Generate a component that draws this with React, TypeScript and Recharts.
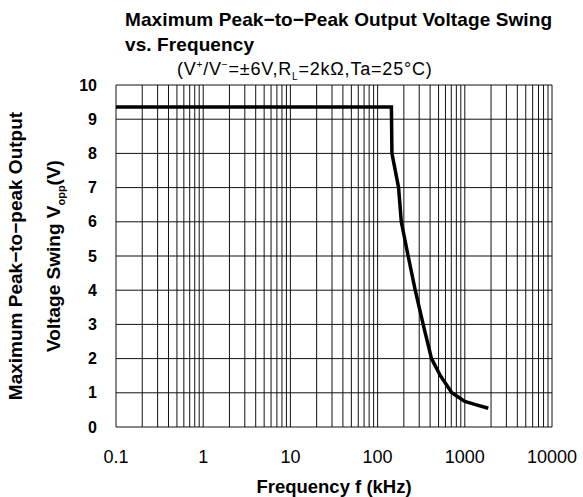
import { LineChart, Line, XAxis, YAxis, CartesianGrid } from 'recharts';

const freqKHz = [0.1, 144, 146, 174, 187, 224, 270, 333, 415, 525, 710, 1000, 1300, 1860];
const swingV = [9.36, 9.36, 8.0, 7.0, 6.0, 5.0, 4.0, 3.0, 2.0, 1.5, 1.0, 0.75, 0.66, 0.55];

const majorTicks = [0.1, 1, 10, 100, 1000, 10000];
const minorSteps = [1, 2, 3, 4, 5, 6, 7, 8, 9];
const yTicks = [0, 1, 2, 3, 4, 5, 6, 7, 8, 9, 10];

const xTicks = [
  ...majorTicks.slice(0, -1).flatMap((d) => minorSteps.map((m) => d * m)),
  10000,
];

const data = freqKHz.map((f, i) => ({ f, v: swingV[i] }));

const font = '"Liberation Sans", Arial, sans-serif';

export default function App() {
  return (
    <div style={{ position: 'absolute', left: 0, top: 0, width: 583, height: 497, background: '#fff', fontFamily: font, color: '#000' }}>
      <div style={{ position: 'absolute', left: 125, top: 7, fontSize: 19, fontWeight: 'bold', lineHeight: '25px', letterSpacing: 0.1, whiteSpace: 'nowrap' }}>
        Maximum Peak−to−Peak Output Voltage Swing
        <br />
        vs. Frequency
      </div>
      <div style={{ position: 'absolute', left: 177, top: 58, fontSize: 18, lineHeight: '22px', letterSpacing: 0.8, whiteSpace: 'nowrap' }}>
        (V<sup style={{ fontSize: 10, lineHeight: 0 }}>+</sup>/V<sup style={{ fontSize: 10, lineHeight: 0 }}>−</sup>=±6V,R<sub style={{ fontSize: 10, lineHeight: 0 }}>L</sub>=2kΩ,Ta=25°C)
      </div>

      <div
        style={{
          position: 'absolute', left: -3, top: 256, width: 320, marginLeft: -160,
          transform: 'rotate(-90deg)', textAlign: 'center', fontSize: 19, fontWeight: 'bold',
          lineHeight: '38px', whiteSpace: 'nowrap', transformOrigin: '160px 0px',
        }}
      >
        Maximum Peak−to−peak Output
        <br />
        Voltage Swing V<sub style={{ fontSize: 11, lineHeight: 0 }}>opp</sub>(V)
      </div>

      <div style={{ position: 'absolute', left: 334, top: 476, transform: 'translateX(-50%)', fontSize: 18.5, fontWeight: 'bold', lineHeight: '22px', whiteSpace: 'nowrap' }}>
        Frequency f (kHz)
      </div>

      <LineChart width={583} height={497} data={data} margin={{ top: 85, right: 31, bottom: 30, left: 56 }}>
        <CartesianGrid stroke="#111" strokeWidth={1} />
        <XAxis
          dataKey="f"
          type="number"
          scale="log"
          domain={[0.1, 10000]}
          ticks={xTicks}
          interval={0}
          height={40}
          tickSize={0}
          tickMargin={23}
          axisLine={false}
          tickLine={false}
          tick={{ fill: '#000', fontSize: 18, fontFamily: font }}
          tickFormatter={(v: number) => (majorTicks.includes(v) ? String(v) : '')}
        />
        <YAxis
          type="number"
          domain={[0, 10]}
          ticks={yTicks}
          interval={0}
          width={60}
          tickSize={0}
          tickMargin={19}
          axisLine={false}
          tickLine={false}
          tick={{ fill: '#000', fontSize: 16, fontWeight: 'bold', fontFamily: font }}
        />
        <Line
          type="linear"
          dataKey="v"
          stroke="#000"
          strokeWidth={3.5}
          dot={false}
          isAnimationActive={false}
        />
      </LineChart>
    </div>
  );
}
